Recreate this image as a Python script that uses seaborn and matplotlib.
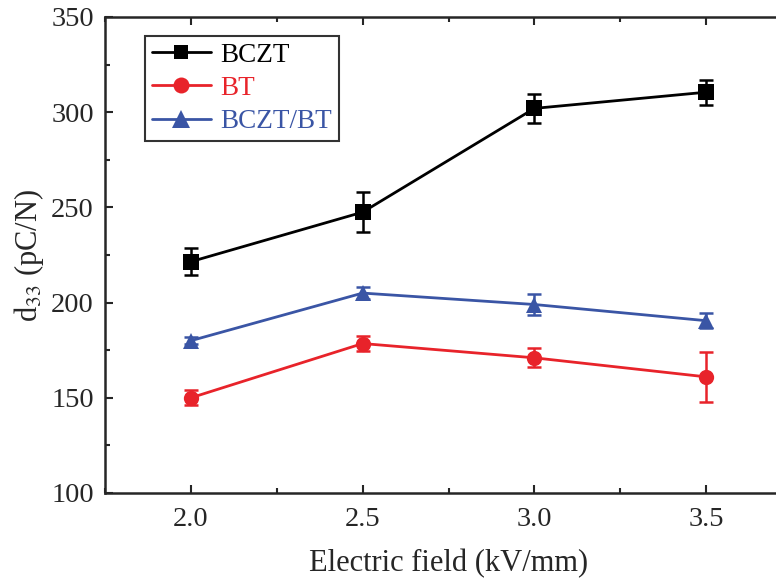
import numpy as np
import pandas as pd
import matplotlib
matplotlib.use('Agg')
import matplotlib.pyplot as plt
import seaborn as sns
from matplotlib.ticker import MultipleLocator

# data
field = [2.0, 2.5, 3.0, 3.5]
bczt = [221.5, 247.5, 302.0, 310.5]
bczt_err = [7.0, 10.5, 7.5, 6.5]
bt = [150.0, 178.5, 171.0, 161.0]
bt_err = [4.0, 4.0, 5.0, 13.3]
bczt_bt = [180.0, 205.0, 199.0, 190.5]
bczt_bt_err = [2.0, 3.0, 5.5, 4.0]

series = ['BCZT', 'BT', 'BCZT/BT']
colors = {'BCZT': '#000000', 'BT': '#e8232a', 'BCZT/BT': '#3a55a5'}
markers = {'BCZT': 's', 'BT': 'o', 'BCZT/BT': '^'}
msizes = {'BCZT': 10.5, 'BT': 11.5, 'BCZT/BT': 12.5}

df = pd.DataFrame({
    'field': field * 3,
    'd33': bczt + bt + bczt_bt,
    'err': bczt_err + bt_err + bczt_bt_err,
    'sample': [s for s in series for _ in field],
})

sns.set_style('ticks')
plt.rcParams['font.family'] = ['Liberation Serif', 'DejaVu Serif']
plt.rcParams['mathtext.fontset'] = 'stix'
plt.rcParams['xtick.direction'] = 'in'
plt.rcParams['ytick.direction'] = 'in'

fig = plt.figure(figsize=(7.76, 5.83), dpi=100)
# right spine sits just outside the picture, as in the reference
ax = fig.add_axes([105 / 776, 90 / 583, 687 / 776, 476 / 583])

for s in series:
    sub = df[df['sample'] == s]
    ax.errorbar(sub['field'], sub['d33'], yerr=sub['err'], fmt='none',
                ecolor=colors[s], elinewidth=1.8, capsize=5, capthick=1.8, zorder=2)

sns.lineplot(data=df, x='field', y='d33', hue='sample', style='sample',
             palette=colors, markers=markers, dashes=False, hue_order=series,
             style_order=series, markersize=11, linewidth=2, markeredgewidth=0,
             ax=ax, zorder=3)

# a bit of per-series marker sizing
for line in ax.lines:
    lab = line.get_label()
    if lab in msizes:
        line.set_markersize(msizes[lab])

ax.set_xlim(1.75, 3.75)
ax.set_ylim(100, 350)
ax.xaxis.set_minor_locator(MultipleLocator(0.25))
ax.yaxis.set_major_locator(MultipleLocator(50))
ax.yaxis.set_minor_locator(MultipleLocator(25))
ax.set_xticks([2.0, 2.5, 3.0, 3.5])
ax.set_xticklabels(['2.0', '2.5', '3.0', '3.5'])
ax.tick_params(which='both', top=True, right=True, labelsize=20.5, width=1.5)
ax.tick_params(which='major', length=6)
ax.tick_params(which='minor', length=3.5)
ax.tick_params(axis='x', which='major', pad=10)
ax.tick_params(axis='y', which='major', pad=8)
for sp in ax.spines.values():
    sp.set_linewidth(1.8)

ax.set_xlabel('Electric field (kV/mm)', fontsize=22, labelpad=12)
ax.set_ylabel('d$_{33}$ (pC/N)', fontsize=22, labelpad=4)

handles, labels = ax.get_legend_handles_labels()
for h in handles:
    lab = h.get_label()
    if lab in msizes:
        h.set_markersize(msizes[lab])
leg = ax.legend(handles, labels, loc='upper left', bbox_to_anchor=(0.058, 0.96),
                borderaxespad=0, fontsize=19.5, frameon=True, fancybox=False,
                edgecolor='black', handlelength=2.2, handletextpad=0.33,
                borderpad=0.25, labelspacing=0.3)
leg.get_frame().set_linewidth(1.5)
for text, s in zip(leg.get_texts(), series):
    text.set_color(colors[s])

fig.savefig('out.png', dpi=100)
